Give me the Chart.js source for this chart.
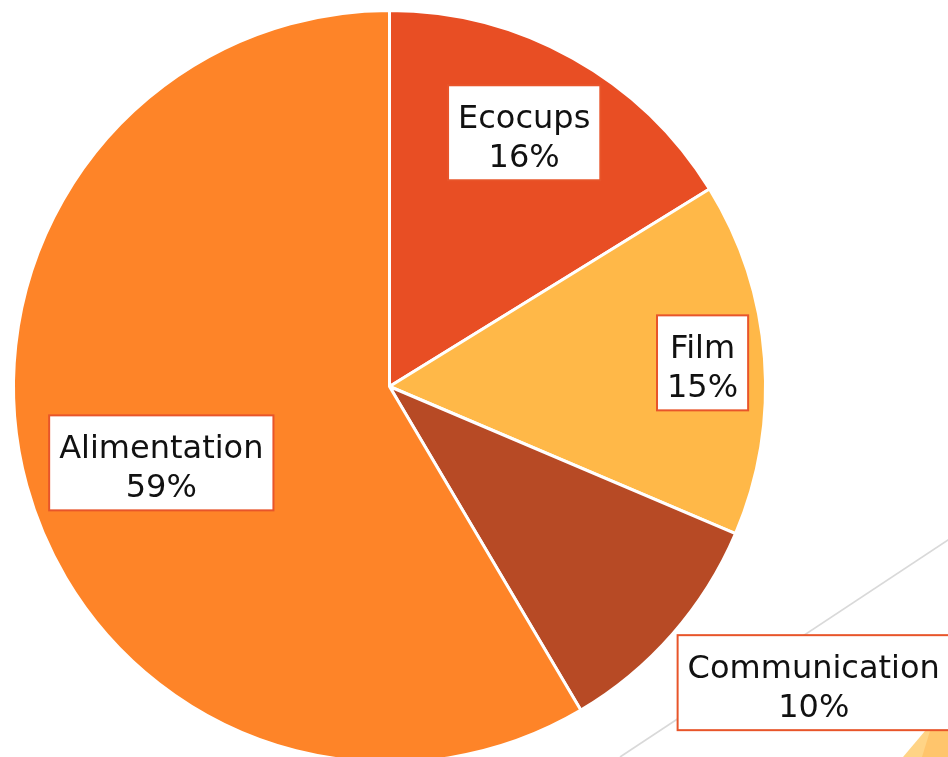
<!DOCTYPE html>
<html>
<head>
<meta charset="utf-8">
<script src="https://cdn.jsdelivr.net/npm/chart.js@4/dist/chart.umd.min.js"></script>
<style>
  html, body { margin: 0; padding: 0; background: #fff; overflow: hidden; }
  #wrap { position: relative; width: 948px; height: 800px; }
  #deco { position: absolute; left: 0; top: 0; }
  #pieChart { position: absolute; left: 0; top: 0; }
</style>
</head>
<body>
<div id="wrap">
  <svg id="deco" width="948" height="800">
    <line x1="620" y1="757" x2="960" y2="532" stroke="#d9d9d9" stroke-width="1.6"/>
    <polygon points="903,757 925,731 948,731 948,757" fill="#ffd486"/>
    <polygon points="922,757 930,731 948,731 948,757" fill="#ffc56c"/>
  </svg>
  <canvas id="pieChart" width="948" height="800"></canvas>
</div>
<script>
const categories = ["Ecocups", "Film", "Communication", "Alimentation"];
const shares = [16.2, 15.2, 10.1, 58.5];
const sliceColors = ["#e84e24", "#ffb848", "#b74a25", "#fe8428"];

// label placement relative to each slice: radius factor and angle shift (deg)
const labelPlace = [
  { r: 0.764, da: -1.2 },
  { r: 0.835, da: 0 },
  { r: 1.376, da: -6.3 },
  { r: 0.64, da: -3.2 }
];

const boxLabels = {
  id: "boxLabels",
  afterDatasetsDraw(chart) {
    const ctx = chart.ctx;
    const arcs = chart.getDatasetMeta(0).data;
    const total = shares.reduce((a, b) => a + b, 0);
    ctx.save();
    ctx.font = "32px 'DejaVu Sans', sans-serif";
    ctx.textAlign = "center";
    ctx.textBaseline = "alphabetic";
    arcs.forEach((arc, i) => {
      const place = labelPlace[i];
      const mid = (arc.startAngle + arc.endAngle) / 2 + place.da * Math.PI / 180;
      const cx = arc.x + Math.cos(mid) * arc.outerRadius * place.r;
      const cy = arc.y + Math.sin(mid) * arc.outerRadius * place.r;
      const line1 = categories[i];
      const line2 = Math.round(shares[i] / total * 100) + "%";
      const w = Math.max(ctx.measureText(line1).width, ctx.measureText(line2).width) + 20;
      const h = 95;
      ctx.fillStyle = "#fff";
      ctx.fillRect(cx - w / 2, cy - h / 2, w, h);
      ctx.strokeStyle = "#e8552a";
      ctx.lineWidth = 2;
      ctx.strokeRect(cx - w / 2, cy - h / 2, w, h);
      ctx.fillStyle = "#111";
      ctx.fillText(line1, cx, cy - 5);
      ctx.fillText(line2, cx, cy + 34);
    });
    ctx.restore();
  }
};

new Chart(document.getElementById("pieChart").getContext("2d"), {
  type: "pie",
  data: {
    labels: categories,
    datasets: [{
      data: shares,
      backgroundColor: sliceColors,
      borderColor: "#fff",
      borderWidth: 3
    }]
  },
  options: {
    responsive: false,
    animation: false,
    radius: 376,
    layout: { padding: { left: 0, right: 169, top: 0, bottom: 27 } },
    plugins: {
      legend: { display: false },
      tooltip: { enabled: false }
    }
  },
  plugins: [boxLabels]
});
</script>
</body>
</html>
